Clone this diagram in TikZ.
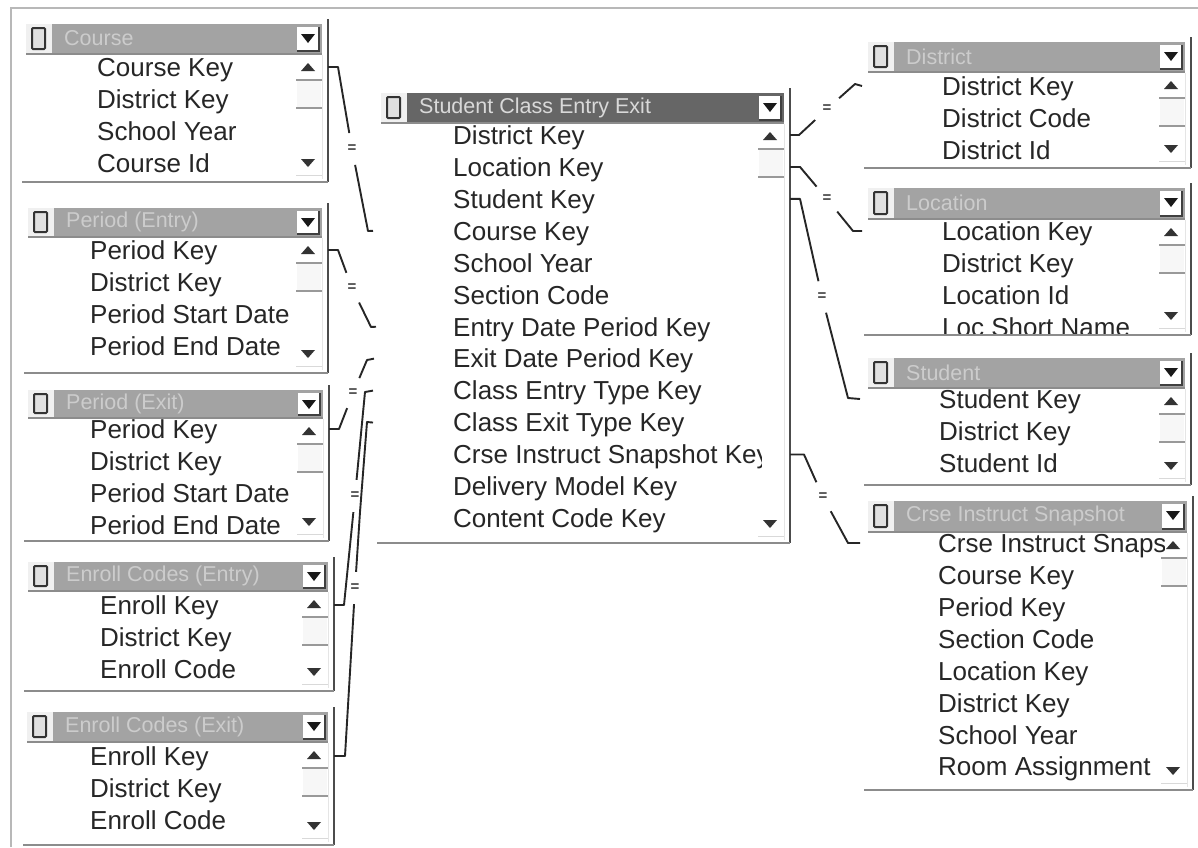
\documentclass[tikz,border=0pt]{standalone}
\usepackage{fontspec}
\setmainfont{Liberation Sans}
\tikzset{
  rowlabel/.style={anchor=west,inner sep=0pt,text height=18.6pt,text depth=0pt,text=black!85,font=\fontsize{26}{26}\selectfont},
  tbl/.style={inner sep=0pt,outer sep=0pt,draw=none},
  link/.style={line width=1.9pt,black!85,line join=round},
  eqsign/.style={circle,inner sep=0pt,minimum size=32pt,text=black!75,font=\bfseries\fontsize{15}{15}\selectfont},
  titlelabel/.style={anchor=west,inner sep=0pt,font=\fontsize{21.5}{22}\selectfont},
}
\definecolor{lightbar}{HTML}{A3A3A3}
\definecolor{darkbar}{HTML}{666666}
\def\erdgeo#1#2#3#4#5#6#7#8{\def\eid{#1}\def\eL{#2}\def\eT{#3}\def\eM{#4}\def\eR{#5}\def\eB{#6}\def\eX{#7}\def\eY{#8}}
\newcommand\erdtxt[4]{%
  % #1 bar colour, #2 title colour, #3 title, #4 rows
  \pgfmathsetmacro\ew{\eR-\eL}\pgfmathsetmacro\eh{\eB-\eT}%
  \pgfmathsetmacro\ecx{(\eR+\eL)/2}\pgfmathsetmacro\ecy{(\eB+\eT)/2}%
  \node[tbl,minimum width=\ew pt,minimum height=\eh pt] (\eid) at (\ecx,\ecy) {};
  % title bar
  \fill[#1] (\eL+26,\eT) rectangle (\eR-5,\eM);
  \fill[black!6] (\eL,\eT) rectangle (\eL+26,\eM);
  \fill[black!45] (\eL,\eM) rectangle (\eR-5,\eM+1.5);
  % table icon
  \draw[line width=2pt,black!80,fill=black!12,rounded corners=1pt] (\eL+6,\eT+4) rectangle (\eL+19,\eM-4);
  % dropdown button
  \fill[white] (\eR-30,\eT+3) rectangle (\eR-9,\eM-3);
  \draw[line width=2.4pt,black!75] (\eR-30,\eM-2) -- (\eR-8,\eM-2) -- (\eR-8,\eT+3);
  \fill[black!90] (\eR-26,\eT+10) -- (\eR-12,\eT+10) -- (\eR-19,\eT+19) -- cycle;
  \node[titlelabel,text=#2] (\eid-title) at (\eL+38,{(\eT+\eM)/2}) {#3};
  % scrollbar
  \fill[black!80] (\eR-26,\eM+18) -- (\eR-12,\eM+18) -- (\eR-19,\eM+10) -- cycle;
  \fill[black!80] (\eR-26,\eB-23) -- (\eR-12,\eB-23) -- (\eR-19,\eB-15) -- cycle;
  \fill[black!3] (\eR-30,\eM+28) rectangle (\eR-6,\eM+55);
  \draw[line width=1.2pt,black!40] (\eR-31,\eM+27) -- (\eR-5,\eM+27);
  \draw[line width=1.2pt,black!40] (\eR-31,\eM+55) -- (\eR-5,\eM+55);
  \draw[line width=1pt,black!15] (\eR-31,\eB-7) -- (\eR-5,\eB-7);
  \draw[line width=1pt,black!10] (\eR-5,\eM+2) -- (\eR-5,\eB-3);
  % rows, cut off by the window
  \begin{scope}
    \clip (\eL,\eM+1) rectangle (\eR-28,\eB-2);
    \foreach \rowtext [count=\i] in {#4} {
      \node[rowlabel] (\eid-r\i) at (\eX,{\eY+31.95*(\i-1)}) {\rowtext};
    }
  \end{scope}
  % window edges
  \draw[line width=1.8pt,black!70] (\eR+1,\eT-5) -- (\eR+1,\eB);
  \draw[line width=2pt,black!45] (\eL-4,\eB) -- (\eR+1,\eB);
}
\begin{document}
\begin{tikzpicture}[x=1pt,y=-1pt]
\useasboundingbox (0,0) rectangle (1198,847);
\fill[white] (0,0) rectangle (1198,847);
\draw[line width=1.6pt,black!28] (11,847) -- (11,8) -- (1198,8);

\erdgeo{course}{26}{24}{53}{327}{182}{97}{67}
\erdtxt{lightbar}{black!20}{Course}{Course Key,District Key,School Year,Course Id}
\erdgeo{pentry}{28}{208}{236}{327}{373}{90}{250}
\erdtxt{lightbar}{black!20}{Period (Entry)}{Period Key,District Key,Period Start Date,Period End Date}
\erdgeo{pexit}{28}{390}{417}{328}{541}{90}{429}
\erdtxt{lightbar}{black!20}{Period (Exit)}{Period Key,District Key,Period Start Date,Period End Date}
\erdgeo{eentry}{28}{562}{590}{333}{691}{100}{605}
\erdtxt{lightbar}{black!20}{Enroll Codes (Entry)}{Enroll Key,District Key,Enroll Code}
\erdgeo{eexit}{27}{712}{741}{333}{845}{90}{756}
\erdtxt{lightbar}{black!20}{Enroll Codes (Exit)}{Enroll Key,District Key,Enroll Code}
\erdgeo{main}{381}{93}{122}{789}{543}{453}{135}
\erdtxt{darkbar}{black!15}{Student Class Entry Exit}{District Key,Location Key,Student Key,Course Key,School Year,Section Code,Entry Date Period Key,Exit Date Period Key,Class Entry Type Key,Class Exit Type Key,Crse Instruct Snapshot Key,Delivery Model Key,Content Code Key}
\erdgeo{district}{868}{42}{71}{1190}{168}{942}{86}
\erdtxt{lightbar}{black!20}{District}{District Key,District Code,District Id}
\erdgeo{location}{868}{188}{218}{1190}{335}{942}{231}
\erdtxt{lightbar}{black!20}{Location}{Location Key,District Key,Location Id,Loc Short Name}
\erdgeo{student}{868}{358}{387}{1190}{485}{939}{399}
\erdtxt{lightbar}{black!20}{Student}{Student Key,District Key,Student Id}
\erdgeo{crse}{868}{501}{531}{1192}{790}{938}{543}
\erdtxt{lightbar}{black!20}{Crse Instruct Snapshot}{Crse Instruct Snapshot Key,Course Key,Period Key,Section Code,Location Key,District Key,School Year,Room Assignment}

% relationship signs
\node[eqsign] (eq1) at (352,149) {=};
\node[eqsign] (eq2) at (352,288) {=};
\node[eqsign] (eq3) at (353,393) {=};
\node[eqsign] (eq4) at (355,496) {=};
\node[eqsign] (eq5) at (355,588) {=};
\node[eqsign] (eq6) at (827,109) {=};
\node[eqsign] (eq7) at (827,199) {=};
\node[eqsign] (eq8) at (822,297) {=};
\node[eqsign] (eq9) at (823,497) {=};

% connectors
\draw[link] (course.east |- course-r1) ++(1,0) -- ++(10,0) -- (eq1);
\draw[link] (eq1) -- (368,231) -- ([xshift=-8pt]main.west |- main-r4);
\draw[link] (pentry.east |- pentry-r1) ++(1,0) -- ++(10,0) -- (eq2);
\draw[link] (eq2) -- (371,327) -- ([xshift=-5pt]main.west |- main-r7);
\draw[link] (pexit.east |- pexit-r1) ++(1,0) -- ++(10,0) -- (eq3);
\draw[link] (eq3) -- (367,360) -- ([xshift=-7pt]main.west |- main-r8);
\draw[link] (eentry.east |- eentry-r1) ++(1,0) -- ++(10,0) -- (eq4);
\draw[link] (eq4) -- (365,392) -- ([xshift=-8pt]main.west |- main-r9);
\draw[link] (eexit.east |- eexit-r1) ++(1,0) -- ++(11,0) -- (eq5);
\draw[link] (eq5) -- (360,512) -- (367,422) -- ([xshift=-8pt]main.west |- main-r10);
\draw[link] (main.east |- main-r1) ++(1,0) -- ++(9,0) -- (eq6);
\draw[link] (eq6) -- (855,84) -- ([xshift=-6pt]district.west |- district-r1);
\draw[link] (main.east |- main-r2) ++(1,0) -- ++(10,0) -- (eq7);
\draw[link] (eq7) -- (853,231) -- ([xshift=-6pt]location.west |- location-r1);
\draw[link] (main.east |- main-r3) ++(1,0) -- ++(10,0) -- (eq8);
\draw[link] (eq8) -- (848,398) -- ([xshift=-8pt]student.west |- student-r1);
\draw[link] (main.east |- main-r11) ++(1,0) -- ++(14,0) -- (eq9);
\draw[link] (eq9) -- (848,543) -- ([xshift=-8pt]crse.west |- crse-r1);
\end{tikzpicture}
\end{document}
